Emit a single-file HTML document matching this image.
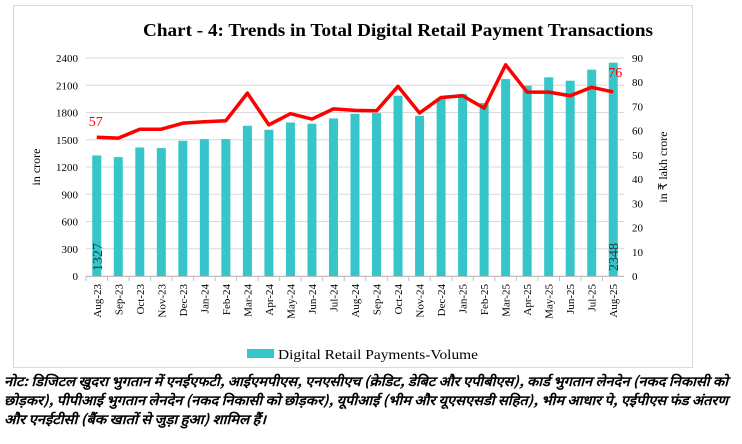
<!DOCTYPE html>
<html><head><meta charset="utf-8"><style>
html,body{margin:0;padding:0;background:#fff;}
svg{display:block;font-family:"Liberation Serif",serif;}
</style></head><body>
<svg id="chart" width="742" height="444" viewBox="0 0 742 444" xmlns="http://www.w3.org/2000/svg">
<rect x="13.5" y="5.5" width="679" height="362" fill="#fff" stroke="#d9d9d9"/>
<text x="398" y="36" text-anchor="middle" font-size="18" font-weight="bold" textLength="510" lengthAdjust="spacingAndGlyphs">Chart - 4: Trends in Total Digital Retail Payment Transactions</text>
<g id="grid"></g><g id="bars"></g><g id="line"></g><g id="axes"></g>
<text transform="translate(40,167) rotate(-90)" text-anchor="middle" font-size="12">in crore</text>
<text transform="translate(667,167) rotate(-90)" text-anchor="middle" font-size="12">in ₹ lakh crore</text>
<g>
<rect x="247" y="349" width="27" height="9" fill="#36c6c9"/>
<text x="278" y="359" font-size="14" textLength="200" lengthAdjust="spacingAndGlyphs">Digital Retail Payments-Volume</text>
</g>
<g font-family="'Noto Sans CJK SC','Liberation Sans',sans-serif" font-size="13.5" font-weight="bold" font-style="italic">
<text x="4" y="386" textLength="724" lengthAdjust="spacingAndGlyphs">नोट: डिजिटल खुदरा भुगतान में एनईएफटी, आईएमपीएस, एनएसीएच (क्रेडिट, डेबिट और एपीबीएस), कार्ड भुगतान लेनदेन (नकद निकासी को</text>
<text x="4" y="405" textLength="724" lengthAdjust="spacingAndGlyphs">छोड़कर), पीपीआई भुगतान लेनदेन (नकद निकासी को छोड़कर), यूपीआई (भीम और यूएसएसडी सहित), भीम आधार पे, एईपीएस फंड अंतरण</text>
<text x="4" y="424" textLength="262" lengthAdjust="spacingAndGlyphs">और एनईटीसी (बैंक खातों से जुड़ा हुआ) शामिल हैं।</text>
</g>
</svg>
<script>
const categories=["Aug-23","Sep-23","Oct-23","Nov-23","Dec-23","Jan-24","Feb-24","Mar-24","Apr-24","May-24","Jun-24","Jul-24","Aug-24","Sep-24","Oct-24","Nov-24","Dec-24","Jan-25","Feb-25","Mar-25","Apr-25","May-25","Jun-25","Jul-25","Aug-25"];
const volumeValues=[1327,1309,1415,1408,1488,1507,1507,1654,1610,1690,1676,1735,1786,1793,1985,1764,1959,2003,1904,2168,2095,2187,2150,2271,2348];
const valueSeries=[57.3,56.9,60.6,60.6,63.1,63.7,64.1,75.5,62.4,67,64.8,69,68.4,68.2,78.3,67.3,73.7,74.4,69.3,87.2,75.9,75.9,74.4,77.9,76];
const leftTicks=[0,300,600,900,1200,1500,1800,2100,2400];
const rightTicks=[0,10,20,30,40,50,60,70,80,90];
const NS="http://www.w3.org/2000/svg";
const X0=86,X1=624,Y0=276,Y1=58;
const band=(X1-X0)/categories.length;
const xc=i=>X0+band*(i+0.5);
const yL=v=>Y0-(v/2400)*(Y0-Y1);
const yR=v=>Y0-(v/90)*(Y0-Y1);
function mk(tag,parent,attrs){const e=document.createElementNS(NS,tag);for(const k in attrs)e.setAttribute(k,attrs[k]);document.getElementById(parent).appendChild(e);return e;}
leftTicks.forEach((t,i)=>{
  const g=mk('line','grid',{x1:X0,x2:X1,y1:yL(t),y2:yL(t),stroke:'#d9d9d9','stroke-width':1});
  
  
  const tx=mk('text','axes',{x:X0-8,y:yL(t)+4,'text-anchor':'end','font-size':11});
  
  
  tx.textContent=t;
});
rightTicks.forEach(t=>{
  const tx=mk('text','axes',{x:X1+8,y:yR(t)+4,'text-anchor':'start','font-size':11});
  
  
  tx.textContent=t;
});
const ax=mk('line','axes',{x1:X0,x2:X1,y1:Y0+0.5,y2:Y0+0.5,stroke:'#bfbfbf'});


categories.forEach((c,i)=>{
  const tk=mk('line','axes',{x1:X0+band*i,x2:X0+band*i,y1:Y0,y2:Y0+5,stroke:'#bfbfbf'});
  
  
  const t=mk('text','axes',{transform:`translate(${xc(i)+4},${Y0+8}) rotate(-90)`,'text-anchor':'end','font-size':11});
  
  
  t.textContent=c;
});
volumeValues.forEach((v,i)=>{
  const b=mk('rect','bars',{x:xc(i)-4.5,y:yL(v),width:9,height:Y0-yL(v),fill:'#36c6c9'});
  
  
});
const pts=valueSeries.map((v,i)=>xc(i)+','+yR(v)).join(' ');
const pl=mk('polyline','line',{points:pts,fill:'none',stroke:'#f00','stroke-width':3.5,'stroke-linejoin':'round'});


const n=categories.length-1;
const l1=mk('text','line',{x:xc(0)-8,y:yR(valueSeries[0])-11,'font-size':14,fill:'#f00'});


l1.textContent=Math.round(valueSeries[0]);
const l2=mk('text','line',{x:xc(n)-5,y:yR(valueSeries[n])-15,'font-size':14,fill:'#f00'});


l2.textContent=Math.round(valueSeries[n]);
const v1=mk('text','bars',{transform:`translate(${xc(0)+5},${Y0-5}) rotate(-90)`,'font-size':14,fill:'#1a3a3a'});


v1.textContent=volumeValues[0];
const v2=mk('text','bars',{transform:`translate(${xc(n)+5},${Y0-5}) rotate(-90)`,'font-size':14,fill:'#1a3a3a'});


v2.textContent=volumeValues[n];
</script>
</body></html>
